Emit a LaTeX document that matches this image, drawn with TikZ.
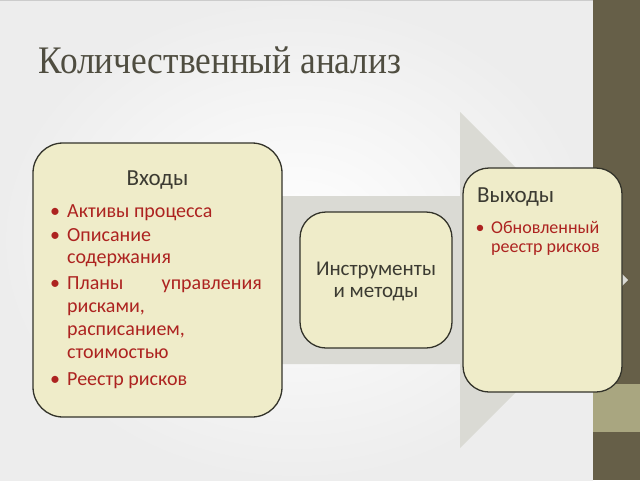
\documentclass[tikz,border=0pt]{standalone}
\usepackage{fontspec}
\setmainfont{Carlito}
\newfontfamily\titlefont[FakeStretch=0.905]{Liberation Serif}
\definecolor{boxfill}{HTML}{EFECC9}
\definecolor{boxline}{HTML}{33332A}
\definecolor{itemred}{HTML}{AD2320}
\definecolor{headcol}{HTML}{3C3B32}
\definecolor{titlecol}{HTML}{4F4D40}
\definecolor{band}{HTML}{665F48}
\definecolor{bandlight}{HTML}{A9A680}
\definecolor{arrowgray}{HTML}{DADAD4}
\begin{document}
\begin{tikzpicture}[x=1pt,y=-1pt,
  box/.style={draw=boxline, line width=1.3pt, fill=boxfill, rounded corners=26pt, inner sep=0},
  hd/.style={text=headcol, inner sep=0, anchor=base},
  it/.style={text=itemred, inner sep=0, anchor=base west, font=\fontsize{20}{24}\selectfont},
  bul/.style={text=itemred, inner sep=0, anchor=base, font=\fontsize{20}{24}\selectfont}]
\useasboundingbox (0,0) rectangle (640,480);
% slide background
\shade[inner color=white, outer color=black!7] (0,0) rectangle (593,480);
\fill[white!80!black] (0,0) rectangle (593,1.2);
% right band
\fill[band] (593,0) rectangle (640,480);
\fill[bandlight] (593,384) rectangle (640,432);
% big arrow
\fill[arrowgray] (270,196) -- (460,196) -- (460,112) -- (628,280) -- (460,448) -- (460,364) -- (270,364) -- cycle;
% title
\node[anchor=base west, inner sep=0, text=titlecol, font=\titlefont\fontsize{39}{42}\selectfont] (title) at (38,73) {Количественный анализ};
% boxes
\node[box, rounded corners=30pt, minimum width=249pt, minimum height=274pt] (in) at (157.5,280) {};
\node[box, minimum width=152pt, minimum height=136pt] (tools) at (376,280) {};
\node[box, minimum width=159pt, minimum height=224pt] (out) at (542.5,280) {};
% inputs text
\node[hd, font=\fontsize{23}{26}\selectfont] (inh) at (157.5,185) {Входы};
\node[bul] (b1) at (55,217) {•};
\node[it] (i1) at (67,217) {Активы процесса};
\node[bul] (b2) at (55,241) {•};
\node[it] (i2a) at (67,241) {Описание};
\node[it] (i2b) at (67,263) {содержания};
\node[bul] (b3) at (55,289) {•};
\node[it] (i3a) at (67,289) {Планы};
\node[it, anchor=base east] (i3b) at (262,289) {управления};
\node[it] (i3c) at (67,312) {рисками,};
\node[it] (i3d) at (67,335) {расписанием,};
\node[it] (i3e) at (67,358) {стоимостью};
\node[bul] (b4) at (55,385) {•};
\node[it] (i4) at (67,385) {Реестр рисков};
% tools text
\node[hd, font=\fontsize{21}{24}\selectfont] (t1) at (376,275) {Инструменты};
\node[hd, font=\fontsize{21}{24}\selectfont] (t2) at (376,297) {и методы};
% outputs text
\node[hd, anchor=base west, font=\fontsize{23}{26}\selectfont] (outh) at (477,202) {Выходы};
\node[bul, font=\fontsize{18}{21}\selectfont] (ob) at (480,233) {•};
\node[it, font=\fontsize{18}{21}\selectfont] (o1) at (491,233) {Обновленный};
\node[it, font=\fontsize{18}{21}\selectfont] (o2) at (491,252) {реестр рисков};
\end{tikzpicture}
\end{document}
